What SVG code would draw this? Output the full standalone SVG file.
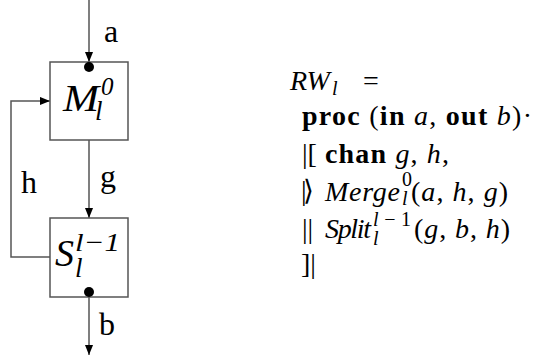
<svg xmlns="http://www.w3.org/2000/svg" width="533" height="358" viewBox="0 0 533 358">
<style>
.ln{stroke:#555;stroke-width:1.5;fill:none}
.bx{stroke:#555;stroke-width:1.5;fill:#fff}
.lbl{font-family:"Liberation Serif",serif;font-size:32px;fill:#000}
.it{font-family:"Liberation Serif",serif;font-style:italic;fill:#000}
.m{font-family:"Liberation Serif",serif;font-size:28px;fill:#000}
.sm{font-family:"Liberation Serif",serif;font-size:20px;fill:#000}
.b{font-weight:bold}
.i{font-style:italic}
</style>
<defs>
<marker id="ah" viewBox="0 0 10 10" refX="10" refY="5" markerWidth="10" markerHeight="9" markerUnits="userSpaceOnUse" orient="auto" preserveAspectRatio="none">
<path d="M0,0.5 L10,5 L0,9.5 Z" fill="#000"/>
</marker>
</defs>
<g id="connectors">
<line class="ln" x1="89" y1="0" x2="89" y2="62" marker-end="url(#ah)"/>
<line class="ln" x1="89" y1="140" x2="89" y2="218" marker-end="url(#ah)"/>
<polyline class="ln" points="50,257 11,257 11,101 50,101" marker-end="url(#ah)"/>
<line class="ln" x1="89" y1="297" x2="89" y2="355" marker-end="url(#ah)"/>
<text class="lbl" x="104" y="42">a</text>
<text class="lbl" x="100" y="187">g</text>
<text class="lbl" x="21" y="193">h</text>
<text class="lbl" x="99" y="335">b</text>
</g>
<g id="merge">
<rect class="bx" x="50" y="62" width="78" height="78"/>
<circle cx="89" cy="67" r="5" fill="#000"/>
<text class="it" x="63" y="111" font-size="37" textLength="36" lengthAdjust="spacingAndGlyphs">M</text>
<text class="it" x="101" y="95" font-size="25">0</text>
<text class="it" x="95" y="120" font-size="27">l</text>
</g>
<g id="split">
<rect class="bx" x="50" y="218" width="78" height="79"/>
<circle cx="89" cy="292" r="5" fill="#000"/>
<text class="it" x="55" y="266" font-size="38">S</text>
<text class="it" x="75" y="251" font-size="26" textLength="45" lengthAdjust="spacingAndGlyphs">l−1</text>
<text class="it" x="75" y="277" font-size="27">l</text>
</g>
<g id="formula">
<text class="m i" x="290" y="90">RW</text>
<text class="sm i" x="332" y="95">l</text>
<text class="m" x="363" y="90">=</text>
<text class="m" x="302" y="125" textLength="230" lengthAdjust="spacing"><tspan class="b">proc</tspan> (<tspan class="b">in</tspan> <tspan class="i">a</tspan>, <tspan class="b">out</tspan> <tspan class="i">b</tspan>)·</text>
<text class="m" x="302" y="163">|[</text>
<text class="m" x="325" y="163" textLength="124" lengthAdjust="spacing"><tspan class="b">chan</tspan> <tspan class="i">g</tspan>, <tspan class="i">h</tspan>,</text>
<text class="m" x="301" y="200" font-size="26">|<tspan dx="-4">⟩</tspan></text>
<text class="m i" x="325" y="201" textLength="75" lengthAdjust="spacing">Merge</text>
<text class="sm" x="402" y="186">0</text>
<text class="sm i" x="402" y="205">l</text>
<text class="m" x="411" y="201" textLength="97" lengthAdjust="spacing">(<tspan class="i">a</tspan>, <tspan class="i">h</tspan>, <tspan class="i">g</tspan>)</text>
<text class="m" x="302" y="238">||</text>
<text class="m i" x="325" y="238" textLength="46" lengthAdjust="spacing">Split</text>
<text class="sm" x="373" y="226" textLength="38" lengthAdjust="spacing"><tspan class="i">l</tspan>−1</text>
<text class="sm i" x="373" y="245">l</text>
<text class="m" x="414" y="238" textLength="96" lengthAdjust="spacing">(<tspan class="i">g</tspan>, <tspan class="i">b</tspan>, <tspan class="i">h</tspan>)</text>
<text class="m" x="301" y="273">]|</text>
</g>
</svg>
